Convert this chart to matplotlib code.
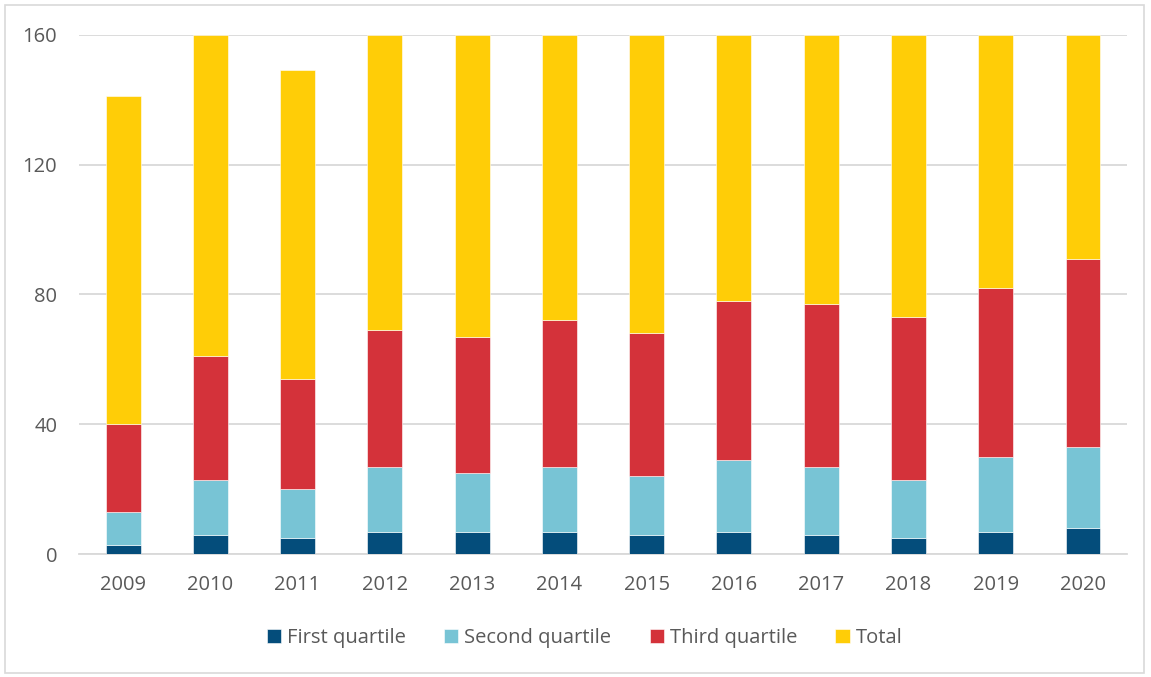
import numpy as np
import matplotlib.pyplot as plt
from matplotlib.patches import Rectangle

# Dados (alturas acumuladas)
anos = ['2009', '2010', '2011', '2012', '2013', '2014',
        '2015', '2016', '2017', '2018', '2019', '2020']
topo_q1 = [3, 6, 5, 7, 7, 7, 6, 7, 6, 5, 7, 8]
topo_q2 = [13, 23, 20, 27, 25, 27, 24, 29, 27, 23, 30, 33]
topo_q3 = [40, 61, 54, 69, 67, 72, 68, 78, 77, 73, 82, 91]
topo_total = [141, 160, 149, 160, 160, 160, 160, 160, 160, 160, 160, 160]

series = ['First quartile', 'Second quartile', 'Third quartile', 'Total']
cores = ['#044D7B', '#78C4D5', '#D4323A', '#FFCD07']

# Segmentos empilhados
q1 = np.array(topo_q1)
q2 = np.array(topo_q2) - q1
q3 = np.array(topo_q3) - np.array(topo_q2)
tot = np.array(topo_total) - np.array(topo_q3)
segmentos = [q1, q2, q3, tot]

plt.rcParams['font.family'] = ['Open Sans', 'DejaVu Sans']
cinza = '#595959'

fig = plt.figure(figsize=(11.51, 6.77), dpi=100)
ax = fig.add_axes([0.069, 0.181, 0.9098, 0.768])

x = np.arange(len(anos))
base = np.zeros(len(anos))
for seg, nome, cor in zip(segmentos, series, cores):
    ax.bar(x, seg, bottom=base, width=0.4, color=cor, label=nome,
           edgecolor='white', linewidth=0.4, zorder=3)
    base = base + seg

ax.set_xlim(-0.5, len(anos) - 0.5)
ax.set_ylim(0, 160)
ax.set_yticks([0, 40, 80, 120, 160])
ax.set_xticks(x)
ax.set_xticklabels(anos)
ax.yaxis.grid(True, color='#d9d9d9', linewidth=1.3, zorder=0)
for lado in ['top', 'right', 'left']:
    ax.spines[lado].set_visible(False)
ax.spines['bottom'].set_color('#d9d9d9')
ax.spines['bottom'].set_linewidth(1.3)
ax.tick_params(axis='both', length=0, labelsize=14.5, colors=cinza)
ax.tick_params(axis='x', pad=15)
ax.tick_params(axis='y', pad=16)

fig.legend(loc='center', bbox_to_anchor=(0.508, 0.0576), ncol=4,
           frameon=False, fontsize=14.5, labelcolor=cinza,
           handlelength=0.7, handleheight=0.7, handletextpad=0.3,
           columnspacing=1.9)

# Moldura externa
fig.patches.append(Rectangle((0.004, 0.006), 0.99, 0.986, transform=fig.transFigure,
                             fill=False, edgecolor='#d9d9d9', linewidth=1.2))

fig.savefig('out.png', dpi=100)
